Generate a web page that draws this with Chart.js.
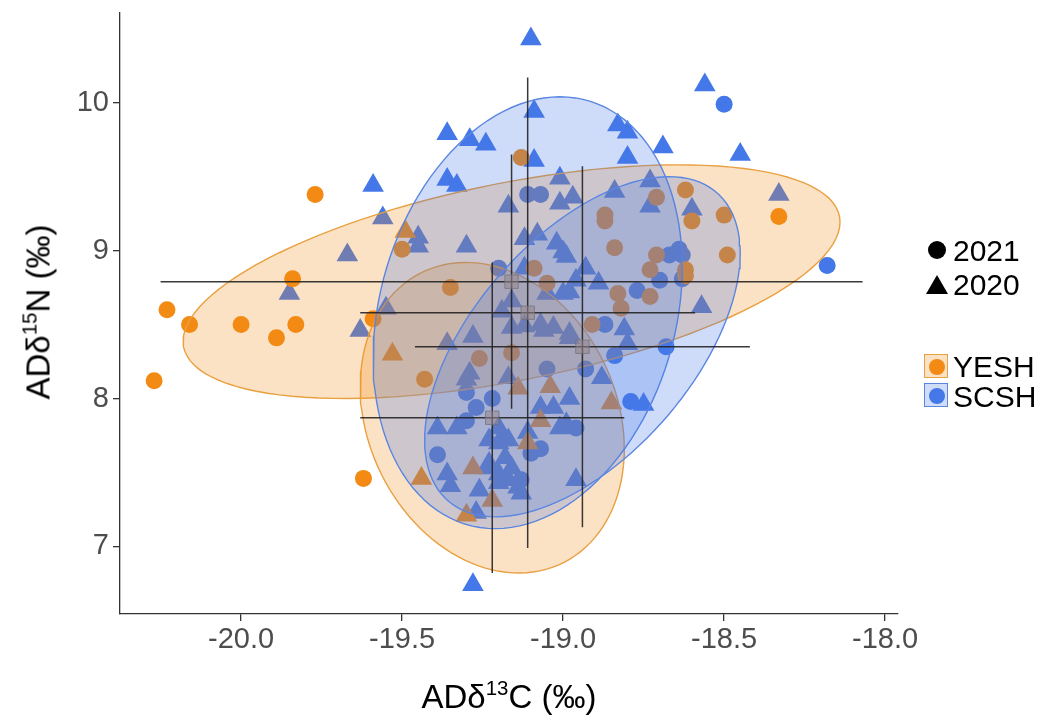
<!DOCTYPE html>
<html>
<head>
<meta charset="utf-8">
<title>AD isotopes YESH / SCSH</title>
<script src="https://cdn.jsdelivr.net/npm/chart.js@4.4.1/dist/chart.umd.min.js"></script>
<style>
  body { margin: 0; background: #fff; }
  #wrap { position: relative; width: 1044px; height: 720px; font-family: "Liberation Sans", Arial, sans-serif; color: #000; overflow: hidden; }
  canvas { position: absolute; left: 0; top: 0; }
  .title { position: absolute; font-size: 33px; line-height: 1; white-space: nowrap; }
  .title sup { font-size: 0.62em; vertical-align: 0.62em; line-height: 0; }
  .xtitle { left: 509px; top: 696px; transform: translate(-50%, -50%); }
  .ytitle { left: 38px; top: 312px; transform: translate(-50%, -50%) rotate(-90deg); }
  .sym { position: absolute; }
  .lt { position: absolute; left: 953px; font-size: 30px; line-height: 1; transform: translateY(-50%); }
  .dot { width: 18px; height: 18px; border-radius: 50%; background: #000; }
  .tri { width: 22px; height: 19px; background: #000; clip-path: polygon(50% 0, 100% 100%, 0 100%); }
  .key { width: 24px; height: 24px; box-sizing: border-box; }
  .key i { position: absolute; left: 4px; top: 4px; width: 16px; height: 16px; border-radius: 50%; }
</style>
</head>
<body>
<div id="wrap">
  <canvas id="chart" width="1044" height="720"></canvas>
  <div class="title xtitle">ADδ<sup>13</sup>C (‰)</div>
  <div class="title ytitle">ADδ<sup>15</sup>N (‰)</div>

  <div class="sym dot" style="left:928px; top:241px"></div>
  <div class="lt" style="top:251px">2021</div>
  <div class="sym tri" style="left:926px; top:275px"></div>
  <div class="lt" style="top:285px">2020</div>

  <div class="sym key" style="left:924px; top:354px; background:rgba(242,138,20,0.25); border:1.5px solid #E9A040"><i style="background:#F28A14"></i></div>
  <div class="lt" style="top:367px">YESH</div>
  <div class="sym key" style="left:924px; top:383px; background:rgba(68,120,232,0.25); border:1.5px solid #5A86E2"><i style="background:#4478E8"></i></div>
  <div class="lt" style="top:397px">SCSH</div>
</div>
<script>
// axis ticks
const xTicks = [-20.0, -19.5, -19.0, -18.5, -18.0]
const yTicks = [7, 8, 9, 10]

// YESH 2021 (circles)
const yesh21X = [-19.77, -19.84, -20.23, -20.16, -20.0, -19.89, -19.83, -20.27, -19.59, -19.62, -19.5, -19.35, -19.43, -19.26, -19.16, -19.13, -19.09, -19.05, -18.62, -18.71, -18.87, -18.87, -18.6, -18.5, -18.33, -18.84, -18.71, -18.49, -18.73, -18.62, -18.62, -18.73, -18.83, -18.82, -18.91]
const yesh21Y = [9.38, 8.81, 8.6, 8.5, 8.5, 8.41, 8.5, 8.12, 8.54, 7.46, 9.01, 8.75, 8.13, 8.27, 8.31, 9.63, 8.88, 8.78, 9.41, 9.36, 9.24, 9.2, 9.2, 9.24, 9.23, 9.02, 8.97, 8.97, 8.87, 8.87, 8.83, 8.69, 8.71, 8.61, 8.5]

// YESH 2020 (triangles)
const yesh20X = [-19.49, -19.53, -19.44, -19.28, -19.3, -19.22, -19.11, -19.14, -19.04, -19.07, -18.85]
const yesh20Y = [9.13, 8.3, 7.46, 7.53, 7.21, 7.31, 7.7, 8.07, 8.08, 7.85, 7.97]

// SCSH 2021 (circles)
const scsh21X = [-18.5, -18.18, -19.11, -19.07, -18.67, -18.64, -18.63, -18.7, -18.63, -18.77, -18.87, -18.68, -18.84, -18.79, -18.93, -19.05, -19.07, -19.1, -18.96, -19.13, -19.22, -19.27, -19.3, -19.3, -19.39, -19.2]
const scsh21Y = [9.99, 8.9, 9.38, 9.38, 8.97, 9.01, 8.97, 8.8, 8.81, 8.73, 8.5, 8.35, 8.29, 7.98, 8.2, 8.2, 7.66, 7.63, 7.8, 7.45, 8.0, 7.94, 8.04, 7.85, 7.62, 8.88]

// SCSH 2020 (triangles)
const scsh20X = [-19.36, -19.29, -19.24, -19.59, -19.36, -19.33, -19.56, -19.67, -19.45, -19.45, -19.3, -19.85, -19.17, -19.55, -19.63, -19.09, -19.1, -19.09, -18.56, -18.83, -18.8, -18.69, -18.45, -18.8, -19.01, -18.97, -19.01, -18.84, -18.73, -18.73, -18.6, -18.33, -19.12, -19.08, -19.02, -19.0, -18.99, -19.12, -18.93, -18.96, -18.89, -19.05, -19.0, -18.57, -19.16, -18.81, -18.8, -18.88, -18.75, -18.98, -18.98, -19.07, -19.03, -18.99, -18.96, -19.17, -19.16, -19.06, -19.36, -19.28, -19.19, -19.16, -19.12, -19.07, -19.03, -19.29, -19.3, -19.17, -19.39, -19.33, -19.2, -19.11, -19.36, -19.35, -19.23, -19.23, -19.19, -19.2, -19.26, -19.27, -19.28, -19.23, -19.18, -19.2, -19.17, -19.14, -19.13, -19.2, -19.01, -18.98, -18.98]
const scsh20Y = [9.79, 9.75, 9.72, 9.44, 9.48, 9.44, 9.22, 8.97, 9.09, 9.03, 9.03, 8.71, 9.3, 8.61, 8.46, 9.61, 10.43, 9.94, 10.12, 9.85, 9.8, 9.7, 9.65, 9.63, 9.49, 9.36, 9.32, 9.4, 9.47, 9.3, 9.28, 9.38, 9.08, 9.11, 9.05, 8.99, 8.96, 8.88, 8.88, 8.8, 8.78, 8.71, 8.71, 8.62, 8.66, 8.47, 8.37, 8.14, 7.96, 8.44, 8.0, 7.94, 7.94, 7.83, 7.45, 7.72, 7.53, 8.46, 8.37, 8.42, 8.59, 8.48, 8.49, 8.5, 8.48, 8.17, 8.13, 8.14, 7.8, 7.8, 7.8, 7.77, 7.49, 7.41, 7.72, 7.53, 7.72, 7.43, 7.38, 7.23, 6.74, 7.56, 7.6, 7.49, 7.45, 7.4, 7.36, 7.7, 7.8, 8.72, 8.41]

// group summaries: YESH 2021, YESH 2020, SCSH 2021, SCSH 2020
const groupMeanX = [-19.16, -19.22, -18.94, -19.11]
const groupMeanY = [8.79, 7.87, 8.35, 8.58]
const groupSdX = [1.09, 0.41, 0.52, 0.52]
const groupSdY = [0.86, 1.05, 1.22, 1.59]
// standard ellipses (semi-extent on each axis and correlation)
const ellipseSdX = [1.02, 0.41, 0.49, 0.48]
const ellipseSdY = [0.79, 1.05, 1.15, 1.46]
const ellipseR = [0.51, -0.2, 0.55, 0.21]

const orange = "#F28A14"
const blue = "#4478E8"
const groupFill = ["rgba(242,138,20,0.25)", "rgba(242,138,20,0.25)", "rgba(68,120,232,0.26)", "rgba(68,120,232,0.26)"]
const groupEdge = ["#E9A040", "#E9A040", "#5A86E2", "#5A86E2"]

function pts(xs, ys) {
  return xs.map((x, i) => ({ x: x, y: ys[i] }))
}

function ellipsePath(i) {
  const out = []
  const k = Math.sqrt(1 - ellipseR[i] * ellipseR[i])
  for (let s = 0; s <= 120; s++) {
    const t = (s / 120) * 2 * Math.PI
    out.push({
      x: groupMeanX[i] + ellipseSdX[i] * Math.cos(t),
      y: groupMeanY[i] + ellipseSdY[i] * (ellipseR[i] * Math.cos(t) + k * Math.sin(t)),
    })
  }
  return out
}

const datasets = []

// points (drawn first, under the ellipses)
const pointSets = [
  [yesh21X, yesh21Y, orange, "circle", 8.5],
  [yesh20X, yesh20Y, orange, "triangle", 12.5],
  [scsh21X, scsh21Y, blue, "circle", 8.5],
  [scsh20X, scsh20Y, blue, "triangle", 12.5],
]
pointSets.forEach(([xs, ys, color, style, r]) => {
  datasets.push({
    data: pts(xs, ys),
    pointStyle: style,
    pointRadius: r,
    backgroundColor: color,
    borderWidth: 0,
    order: 10,
  })
})

// ellipses, orange under blue
for (let i = 0; i < 4; i++) {
  datasets.push({
    data: ellipsePath(i),
    showLine: true,
    fill: "shape",
    backgroundColor: groupFill[i],
    borderColor: groupEdge[i],
    borderWidth: 1.4,
    pointRadius: 0,
    tension: 0,
    order: i < 2 ? 8 : 6,
  })
}

// mean +/- sd crosses
for (let i = 0; i < 4; i++) {
  const bar = {
    showLine: true,
    borderColor: "rgba(35,35,35,0.9)",
    borderWidth: 1.5,
    pointRadius: 0,
    order: 2,
  }
  datasets.push(Object.assign({}, bar, {
    data: [{ x: groupMeanX[i] - groupSdX[i], y: groupMeanY[i] }, { x: groupMeanX[i] + groupSdX[i], y: groupMeanY[i] }],
  }))
  datasets.push(Object.assign({}, bar, {
    data: [{ x: groupMeanX[i], y: groupMeanY[i] - groupSdY[i] }, { x: groupMeanX[i], y: groupMeanY[i] + groupSdY[i] }],
  }))
}

datasets.push({
  data: pts(groupMeanX, groupMeanY),
  pointStyle: "rect",
  pointRadius: 9.5,
  backgroundColor: "rgba(150,135,140,0.55)",
  borderColor: "rgba(110,110,120,0.7)",
  borderWidth: 1,
  order: 0,
})

const tickFont = { family: "'Liberation Sans', Arial, sans-serif", size: 29 }

new Chart(document.getElementById("chart"), {
  type: "scatter",
  data: { datasets: datasets },
  options: {
    responsive: false,
    animation: false,
    events: [],
    layout: { padding: { top: 9, right: 146, left: 0, bottom: 0 } },
    plugins: { legend: { display: false }, tooltip: { enabled: false } },
    scales: {
      x: {
        type: "linear",
        min: -20.376,
        max: -17.96,
        afterBuildTicks: (axis) => { axis.ticks = xTicks.map((v) => ({ value: v })) },
        afterFit: (axis) => { axis.height = 106; axis.paddingLeft = 0; axis.paddingRight = 0 },
        ticks: { callback: (v) => Number(v).toFixed(1), font: tickFont, color: "#4D4D4D", padding: 2, autoSkip: false, maxRotation: 0 },
        grid: { drawOnChartArea: false, color: "#333", tickLength: 7, lineWidth: 1.3 },
        border: { color: "#333", width: 1.3 },
      },
      y: {
        type: "linear",
        min: 6.543,
        max: 10.61,
        afterBuildTicks: (axis) => { axis.ticks = yTicks.map((v) => ({ value: v })) },
        afterFit: (axis) => { axis.width = 120; axis.paddingTop = 0; axis.paddingBottom = 0 },
        ticks: { callback: (v) => String(v), font: tickFont, color: "#4D4D4D", padding: 4, autoSkip: false },
        grid: { drawOnChartArea: false, color: "#333", tickLength: 7, lineWidth: 1.3 },
        border: { color: "#333", width: 1.3 },
      },
    },
  },
})
</script>
</body>
</html>
